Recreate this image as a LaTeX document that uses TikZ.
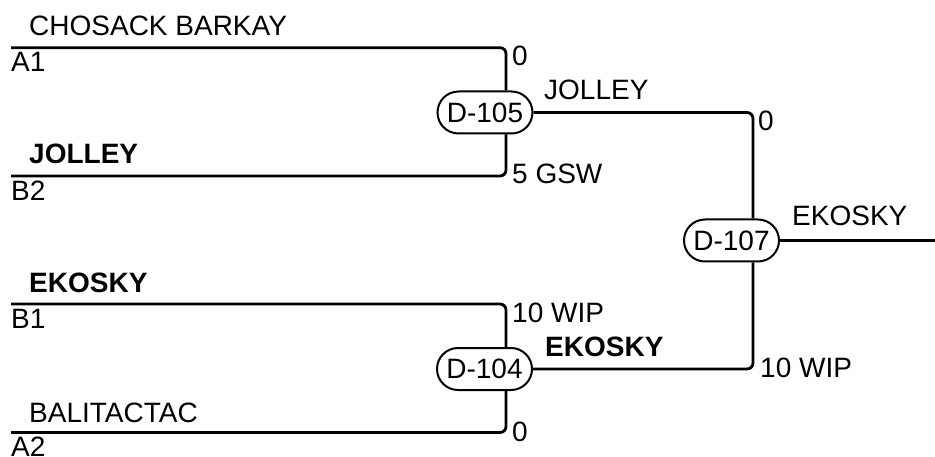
\documentclass[tikz,border=0pt]{standalone}
\usepackage{fontspec}
\setmainfont{Liberation Sans}
\usetikzlibrary{shapes.misc}
\begin{document}
\begin{tikzpicture}[x=1pt,y=-1pt,
  lbl/.style={anchor=base west, inner sep=0pt, font=\fontsize{28}{33}\selectfont},
  blbl/.style={anchor=base west, inner sep=0pt, font=\fontsize{28}{33}\selectfont\bfseries},
  game/.style={draw, line width=2pt, rounded rectangle, minimum width=95pt, minimum height=42pt, inner sep=0pt, font=\fontsize{28}{33}\selectfont},
  wire/.style={line width=2.8pt, rounded corners=6pt}]
\useasboundingbox (0,0) rectangle (935,457);
% match nodes
\node[game] (d105) at (485,112.5) {D-105};
\node[game] (d104) at (484.5,369) {D-104};
\node[game] (d107) at (731.5,240.5) {D-107};
% coordinates
\coordinate (a1) at (11,47.7);
\coordinate (b2) at (11,176);
\coordinate (b1) at (11,304);
\coordinate (a2) at (11,432.5);
\coordinate (xl) at (506,0);
\coordinate (xr) at (753,0);
\coordinate (out) at (935,240.5);
% wires
\draw[wire] (a1) -| (d105.north -| xl);
\draw[wire] (b2) -| (d105.south -| xl);
\draw[wire] (b1) -| (d104.north -| xl);
\draw[wire] (a2) -| (d104.south -| xl);
\draw[wire] (d105.east) -| (d107.north -| xr);
\draw[wire] (d104.east) -| (d107.south -| xr);
\draw[wire] (d107.east) -- (out);
% team labels
\node[lbl] (t1) at (29,36) {CHOSACK BARKAY};
\node[lbl] (s1) at (11,72) {A1};
\node[blbl] (t2) at (29,164) {JOLLEY};
\node[lbl] (s2) at (11,200.5) {B2};
\node[blbl] (t3) at (29,293) {EKOSKY};
\node[lbl] (s3) at (11,328) {B1};
\node[lbl] (t4) at (29,422) {BALITACTAC};
\node[lbl] (s4) at (11,456.5) {A2};
% scores
\node[lbl] (sc1) at (512,66) {0};
\node[lbl] (sc2) at (512,184) {5 GSW};
\node[lbl] (w1) at (544,100) {JOLLEY};
\node[lbl] (sc3) at (512,323) {10 WIP};
\node[blbl] (w2) at (545,356) {EKOSKY};
\node[lbl] (sc4) at (512,441) {0};
\node[lbl] (sc5) at (758,131) {0};
\node[lbl] (w3) at (792,226) {EKOSKY};
\node[lbl] (sc6) at (760,377) {10 WIP};
\end{tikzpicture}
\end{document}
